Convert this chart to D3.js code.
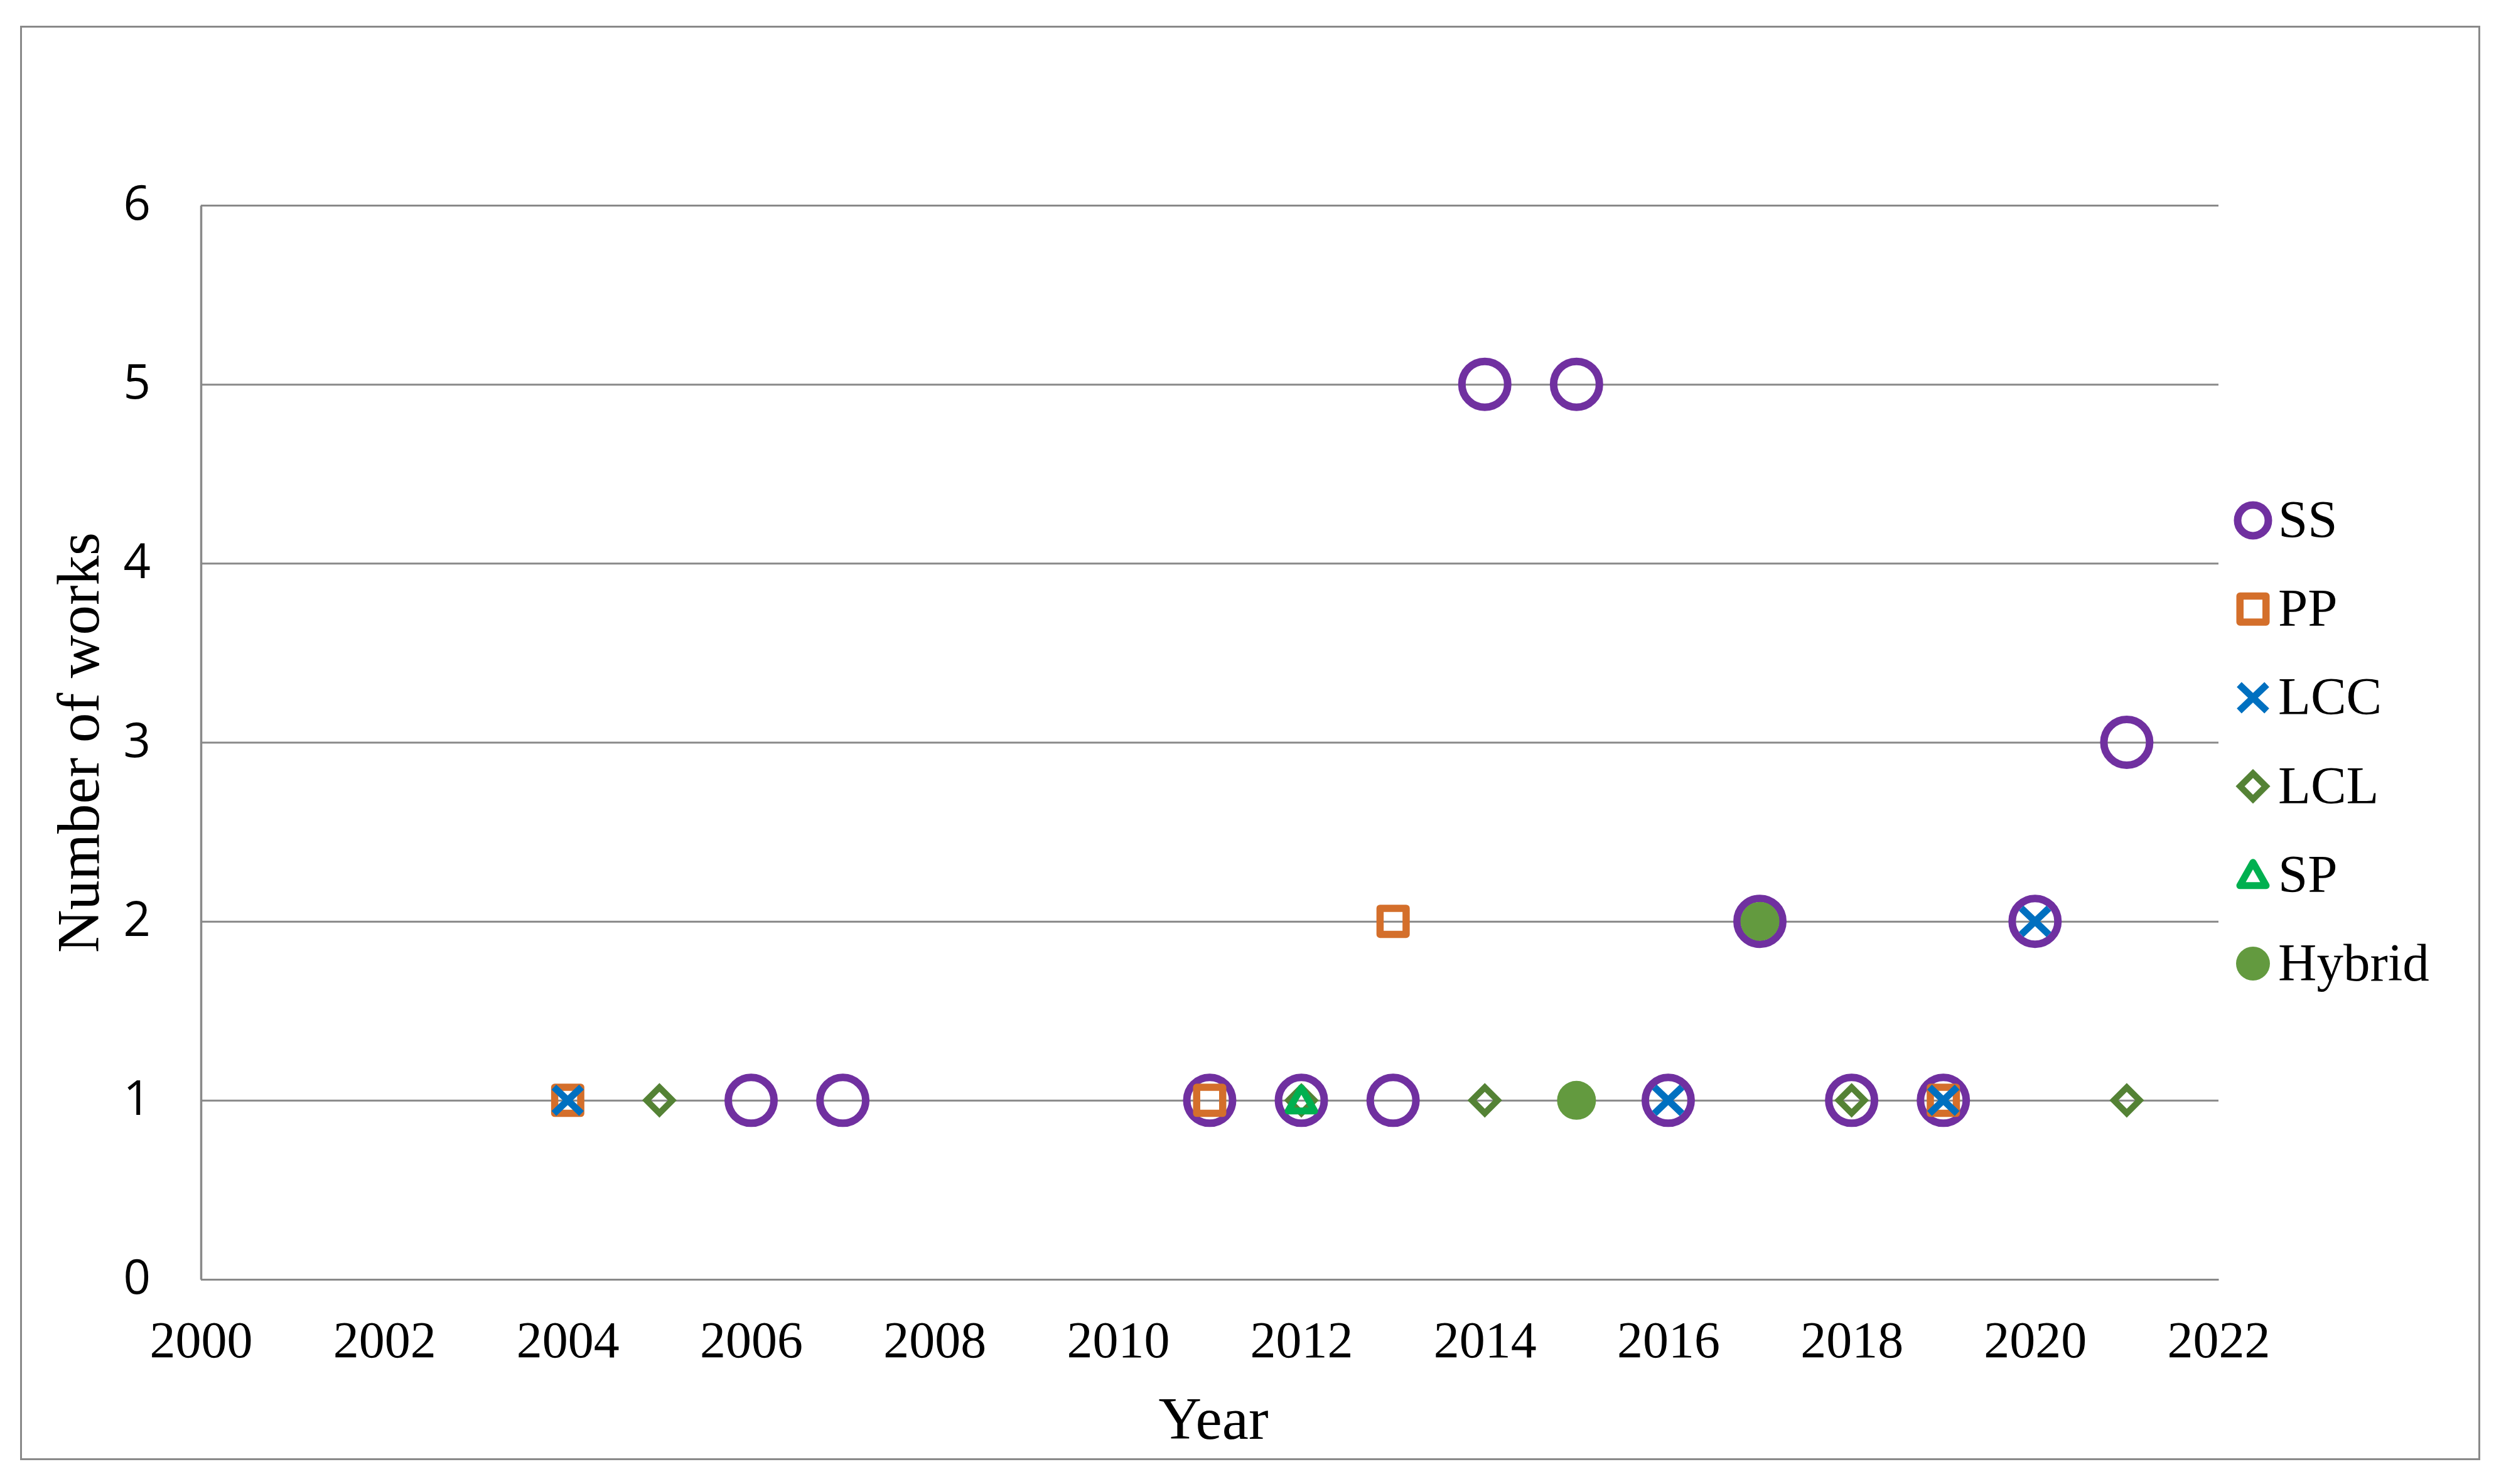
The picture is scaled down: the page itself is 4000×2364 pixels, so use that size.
<!DOCTYPE html>
<html>
<head>
<meta charset="utf-8">
<script src="https://cdn.jsdelivr.net/npm/d3@7"></script>
<style>
  body { margin: 0; background: #fff; }
  svg { display: block; }
</style>
</head>
<body>
<svg width="4000" height="2364"></svg>
<script>
var width = 4000;
var height = 2364;
var margin = {left: 320, right: 466, top: 327, bottom: 326};

// data
var xTicks = [2000, 2002, 2004, 2006, 2008, 2010, 2012, 2014, 2016, 2018, 2020, 2022];
var yTicks = [0, 1, 2, 3, 4, 5, 6];

var ssYears  = [2006, 2007, 2011, 2012, 2013, 2014, 2015, 2016, 2017, 2018, 2019, 2020, 2021];
var ssCounts = [1, 1, 1, 1, 1, 5, 5, 1, 2, 1, 1, 2, 3];

var ppYears  = [2004, 2011, 2013, 2019];
var ppCounts = [1, 1, 2, 1];

var lccYears  = [2004, 2016, 2019, 2020];
var lccCounts = [1, 1, 1, 2];

var lclYears  = [2005, 2012, 2014, 2018, 2021];
var lclCounts = [1, 1, 1, 1, 1];

var spYears  = [2012];
var spCounts = [1];

var hybridYears  = [2015, 2017];
var hybridCounts = [1, 2];

var seriesNames = ['SS', 'PP', 'LCC', 'LCL', 'SP', 'Hybrid'];

var gray = '#898989';
var colors = {SS: '#7030A0', PP: '#D46F2B', LCC: '#0070C0', LCL: '#548235', SP: '#00B050', Hybrid: '#639A3F'};

var xScale = d3.scaleLinear().domain([2000, 2022]).range([margin.left, width - margin.right]);
var yScale = d3.scaleLinear().domain([0, 6]).range([height - margin.bottom, margin.top]);

var svg = d3.select('svg');

// outer frame
svg.append('rect')
  .attr('x', 33.5).attr('y', 42.5)
  .attr('width', 3916).attr('height', 2282)
  .attr('fill', 'none')
  .attr('stroke', gray)
  .attr('stroke-width', 3);

// y axis with gridlines
var yAxis = svg.append('g')
  .attr('transform', 'translate(' + margin.left + ',0)')
  .call(d3.axisLeft(yScale)
    .tickValues(yTicks)
    .tickSize(-(width - margin.left - margin.right))
    .tickSizeOuter(0)
    .tickPadding(80)
    .tickFormat(d3.format('d')));
yAxis.selectAll('line').attr('stroke', gray).attr('stroke-width', 3);
yAxis.select('.domain').attr('stroke', gray).attr('stroke-width', 3.5);
yAxis.selectAll('text')
  .attr('dy', '0.3em')
  .style('font-family', '"Open Sans", sans-serif')
  .style('font-size', '76px')
  .attr('fill', '#000');

// x axis
var xAxis = svg.append('g')
  .attr('transform', 'translate(0,' + (height - margin.bottom) + ')')
  .call(d3.axisBottom(xScale)
    .tickValues(xTicks)
    .tickSize(0)
    .tickSizeOuter(0)
    .tickFormat(d3.format('d')));
xAxis.select('.domain').attr('stroke', gray).attr('stroke-width', 3);
xAxis.selectAll('text')
  .attr('dy', null)
  .attr('y', 124)
  .style('font-family', '"Liberation Serif", serif')
  .style('font-size', '82px')
  .attr('fill', '#000');

// axis titles
svg.append('text')
  .attr('x', 1933)
  .attr('y', 2292)
  .attr('text-anchor', 'middle')
  .style('font-family', '"Liberation Serif", serif')
  .style('font-size', '95px')
  .text('Year');

svg.append('text')
  .attr('transform', 'translate(157,1183) rotate(-90)')
  .attr('text-anchor', 'middle')
  .style('font-family', '"Liberation Serif", serif')
  .style('font-size', '95px')
  .text('Number of works');

// marker drawing
function drawMarker(g, name, big) {
  var c = colors[name];
  if (name === 'SS') {
    g.append('circle').attr('r', big ? 36.5 : 24.5)
      .attr('fill', 'none').attr('stroke', c).attr('stroke-width', 12);
  } else if (name === 'PP') {
    g.append('rect').attr('x', -20.75).attr('y', -20.75)
      .attr('width', 41.5).attr('height', 41.5)
      .attr('fill', 'none').attr('stroke', c).attr('stroke-width', 11.5)
      .attr('stroke-linejoin', 'round');
  } else if (name === 'LCC') {
    g.append('path').attr('d', 'M-22,-21L22,21M-22,21L22,-21')
      .attr('fill', 'none').attr('stroke', c).attr('stroke-width', 11);
  } else if (name === 'LCL') {
    g.append('path').attr('d', 'M0,-20.5L20.5,0L0,20.5L-20.5,0Z')
      .attr('fill', 'none').attr('stroke', c).attr('stroke-width', 10)
      .attr('stroke-linejoin', 'miter');
  } else if (name === 'SP') {
    g.append('path').attr('d', 'M0,-20L21,17L-21,17Z')
      .attr('fill', 'none').attr('stroke', c).attr('stroke-width', 11)
      .attr('stroke-linejoin', 'round');
  } else {
    g.append('circle').attr('r', big ? 31 : 27).attr('fill', c);
  }
}

function plotSeries(name, years, counts) {
  var pts = years.map(function (yr, i) { return {year: yr, count: counts[i]}; });
  svg.append('g').attr('class', name)
    .selectAll('g')
    .data(pts)
    .enter()
    .append('g')
    .attr('transform', function (d) { return 'translate(' + xScale(d.year) + ',' + yScale(d.count) + ')'; })
    .each(function () { drawMarker(d3.select(this), name, true); });
}

plotSeries('SS', ssYears, ssCounts);
plotSeries('PP', ppYears, ppCounts);
plotSeries('LCC', lccYears, lccCounts);
plotSeries('LCL', lclYears, lclCounts);
plotSeries('SP', spYears, spCounts);
plotSeries('Hybrid', hybridYears, hybridCounts);

// legend
var legend = svg.append('g').attr('transform', 'translate(3589,829)');
var rows = legend.selectAll('g')
  .data(seriesNames)
  .enter()
  .append('g')
  .attr('transform', function (d, i) { return 'translate(0,' + (i * 141.2) + ')'; });
rows.each(function (d) { drawMarker(d3.select(this), d, false); });
rows.append('text')
  .attr('x', 40)
  .attr('y', 27)
  .style('font-family', '"Liberation Serif", serif')
  .style('font-size', '85px')
  .text(function (d) { return d; });
</script>
</body>
</html>
